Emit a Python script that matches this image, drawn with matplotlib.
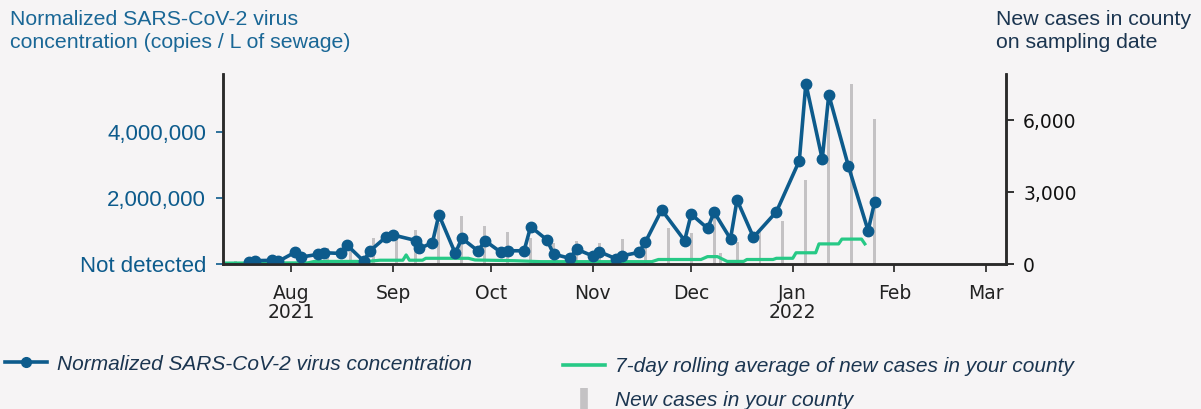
import numpy as np
import pandas as pd
import matplotlib
matplotlib.use("Agg")
import matplotlib.pyplot as plt
from matplotlib.lines import Line2D
from matplotlib.ticker import FuncFormatter

# concentracion normalizada (copias / L) en cada fecha de muestreo
fechas_virus = ["2021-07-19", "2021-07-21", "2021-07-26", "2021-07-28", "2021-08-02", "2021-08-04",
                "2021-08-09", "2021-08-11", "2021-08-16", "2021-08-18", "2021-08-23", "2021-08-25",
                "2021-08-30", "2021-09-01", "2021-09-08", "2021-09-09", "2021-09-13", "2021-09-15",
                "2021-09-20", "2021-09-22", "2021-09-27", "2021-09-29", "2021-10-04", "2021-10-06",
                "2021-10-11", "2021-10-13", "2021-10-18", "2021-10-20", "2021-10-25", "2021-10-27",
                "2021-11-01", "2021-11-03", "2021-11-08", "2021-11-10", "2021-11-15", "2021-11-17",
                "2021-11-22", "2021-11-29", "2021-12-01", "2021-12-06", "2021-12-08", "2021-12-13",
                "2021-12-15", "2021-12-20", "2021-12-27", "2022-01-03", "2022-01-05", "2022-01-10",
                "2022-01-12", "2022-01-18", "2022-01-24", "2022-01-26"]
virus = [0.07, 0.11, 0.12, 0.09, 0.36, 0.22,
         0.30, 0.35, 0.33, 0.58, 0.10, 0.41,
         0.84, 0.89, 0.72, 0.48, 0.65, 1.50,
         0.33, 0.79, 0.40, 0.72, 0.36, 0.41,
         0.41, 1.14, 0.74, 0.31, 0.18, 0.46,
         0.25, 0.38, 0.17, 0.26, 0.36, 0.67,
         1.65, 0.72, 1.52, 1.09, 1.58, 0.77,
         1.95, 0.82, 1.59, 3.14, 5.48, 3.19,
         5.14, 2.97, 1.02, 1.89]  # millones

# casos nuevos en el condado (barras)
fechas_casos = ["2021-07-15", "2021-07-22", "2021-07-29", "2021-08-05", "2021-08-12", "2021-08-19",
                "2021-08-26", "2021-09-02", "2021-09-08", "2021-09-15", "2021-09-22", "2021-09-29",
                "2021-10-06", "2021-10-13", "2021-10-20", "2021-10-27", "2021-11-03", "2021-11-10",
                "2021-11-17", "2021-11-24", "2021-12-01", "2021-12-08", "2021-12-10", "2021-12-15",
                "2021-12-22", "2021-12-29", "2022-01-05", "2022-01-12", "2022-01-19", "2022-01-26"]
casos = [120, 150, 180, 250, 670, 560,
         1080, 1400, 1430, 1700, 2010, 1600,
         1340, 1080, 900, 970, 900, 1055,
         800, 1530, 1320, 2050, 480, 940,
         1360, 1800, 3510, 6010, 7510, 6050]

# media movil de 7 dias
fechas_media = ["2021-07-11", "2021-08-06", "2021-08-08", "2021-08-24", "2021-08-28", "2021-09-04",
                "2021-09-05", "2021-09-06", "2021-09-10", "2021-09-11", "2021-09-24", "2021-09-26",
                "2021-10-08", "2021-10-16", "2021-11-19", "2021-11-21", "2021-12-04", "2021-12-06",
                "2021-12-09", "2021-12-12", "2021-12-17", "2021-12-18", "2021-12-26", "2021-12-27",
                "2022-01-01", "2022-01-02", "2022-01-08", "2022-01-09", "2022-01-15", "2022-01-16",
                "2022-01-22", "2022-01-23"]
media = [50, 60, 120, 120, 170, 170,
         390, 170, 170, 250, 250, 180,
         150, 110, 110, 200, 200, 320,
         320, 120, 120, 200, 200, 250,
         250, 480, 480, 850, 850, 1050,
         1050, 850]

fondo = "#f6f4f5"
azul = "#0d5b8c"
verde = "#27c986"
gris = "#c4c2c4"
navy = "#1b3550"

plt.rcParams['font.family'] = ['DejaVu Sans']
fig = plt.figure(figsize=(12.01, 4.09), dpi=100, facecolor=fondo)
ax = fig.add_axes([0.1854, 0.3538, 0.6520, 0.4653])
ax2 = ax.twinx()

x_virus = pd.to_datetime(fechas_virus)
x_casos = pd.to_datetime(fechas_casos)
x_media = pd.to_datetime(fechas_media)

ax2.bar(x_casos, casos, width=0.9, color=gris, zorder=1)
ax2.plot(x_media, media, color=verde, lw=2.3, zorder=2)
ax2.set_ylim(0, 7930)
ax2.set_yticks([0, 3000, 6000])
ax2.yaxis.set_major_formatter(FuncFormatter(lambda v, p: f"{int(v):,}"))
ax2.tick_params(axis='y', labelsize=13.5, colors='#111111', length=5.5, width=1.2, pad=7)

# la linea azul va delante de las barras
ax.set_zorder(ax2.get_zorder() + 1)
ax.patch.set_visible(False)
ax2.patch.set_facecolor(fondo)
ax.plot(x_virus, np.array(virus) * 1e6, color=azul, lw=2.6, marker='o', ms=7.5)
ax.set_ylim(0, 5.77e6)
ax.set_yticks([0, 2e6, 4e6])
ax.set_yticklabels(["Not detected", "2,000,000", "4,000,000"], fontfamily='Liberation Sans')
ax.tick_params(axis='y', labelsize=16, colors=azul, length=5, width=1.2, pad=7)

ax.set_xlim(pd.Timestamp("2021-07-11"), pd.Timestamp("2022-03-07"))
ticks = pd.to_datetime(["2021-08-01", "2021-09-01", "2021-10-01", "2021-11-01",
                        "2021-12-01", "2022-01-01", "2022-02-01", "2022-03-01"])
ax.set_xticks(ticks)
ax.set_xticklabels(["Aug\n2021", "Sep", "Oct", "Nov", "Dec", "Jan\n2022", "Feb", "Mar"])
ax.tick_params(axis='x', labelsize=13.5, colors='#222222', length=6, width=1.2, pad=8)
for lab in ax.get_xticklabels():
    lab.set_linespacing(1.0)
for a in (ax, ax2):
    a.spines['top'].set_visible(False)
    for s in ('left', 'right', 'bottom'):
        a.spines[s].set_color('#2a2a2a')
        a.spines[s].set_linewidth(1.8)

fig.text(0.008, 0.975, "Normalized SARS-CoV-2 virus\nconcentration (copies / L of sewage)",
         ha='left', va='top', fontsize=15.3, color="#1a6796", fontfamily='Liberation Sans',
         linespacing=1.25)
fig.text(0.829, 0.975, "New cases in county\non sampling date",
         ha='left', va='top', fontsize=15.3, color=navy, fontfamily='Liberation Sans',
         linespacing=1.25)

h1 = Line2D([], [], color=azul, lw=2.6, marker='o', ms=7)
h2 = Line2D([], [], color=verde, lw=2.6)
h3 = Line2D([], [], color=gris, marker='|', ms=16, mew=5.5, linestyle='none')
fuente = {'family': 'Liberation Sans', 'style': 'italic', 'size': 15}
fig.legend([h1], ["Normalized SARS-CoV-2 virus concentration"], loc='center left',
           bbox_to_anchor=(5 / 1201, 0.11), frameon=False, prop=fuente, handlelength=2.0,
           handletextpad=0.5, borderpad=0, borderaxespad=0, labelcolor=navy)
fig.legend([h2, h3], ["7-day rolling average of new cases in your county", "New cases in your county"],
           loc='center left', bbox_to_anchor=(563 / 1201, 0.062), frameon=False, prop=fuente,
           handlelength=2.0, handletextpad=0.5, labelspacing=0.75, borderpad=0, borderaxespad=0,
           labelcolor=navy)

fig.savefig("out.png", dpi=100, facecolor=fondo)
